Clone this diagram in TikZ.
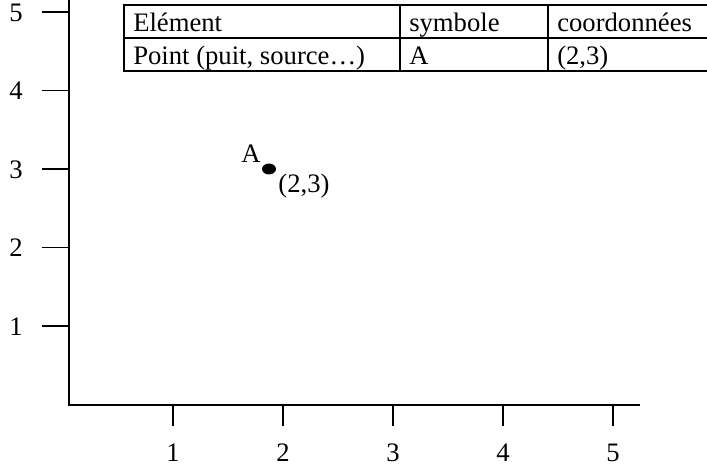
\documentclass[tikz,border=0pt]{standalone}
\usepackage{fontspec}
\setmainfont{Liberation Serif}
\usetikzlibrary{shapes.geometric}

\begin{document}
\begin{tikzpicture}[x=0.75pt, y=-0.75pt,
    axisline/.style={line width=1.4pt},
    tickline/.style={line width=1.1pt},
    tableline/.style={line width=1.4pt},
    lbl/.style={inner sep=0pt, font=\fontsize{20}{24}\selectfont},
    dot/.style={ellipse, fill=black, inner sep=0pt, minimum width=10.5pt, minimum height=8.2pt}]
    \useasboundingbox (0,0) rectangle (707,465);

    \def\ystep{78.5}
    \def\xstep{110}

    \coordinate (Origin) at (69,405);
    \coordinate (YTop) at (69,0);
    \coordinate (XEnd) at (640,405);

    % Axes
    \draw[axisline] (YTop) -- (Origin) -- (XEnd);

    % Y ticks
    \draw[tickline] (42,326) -- (69,326);
    \draw[tickline] (42,326-\ystep) -- (69,326-\ystep);
    \draw[tickline] (42,326-2*\ystep) -- (69,326-2*\ystep);
    \draw[tickline] (42,326-3*\ystep) -- (69,326-3*\ystep);
    \draw[tickline] (42,326-4*\ystep) -- (69,326-4*\ystep);

    \node[lbl, anchor=base] (Y1) at (16,335) {1};
    \node[lbl, anchor=base] (Y2) at (16,335-\ystep) {2};
    \node[lbl, anchor=base] (Y3) at (16,335-2*\ystep) {3};
    \node[lbl, anchor=base] (Y4) at (16,335-3*\ystep) {4};
    \node[lbl, anchor=base] (Y5) at (16,335-4*\ystep) {5};

    % X ticks
    \draw[tickline] (173,405) -- (173,426);
    \draw[tickline] (173+\xstep,405) -- (173+\xstep,426);
    \draw[tickline] (173+2*\xstep,405) -- (173+2*\xstep,426);
    \draw[tickline] (173+3*\xstep,405) -- (173+3*\xstep,426);
    \draw[tickline] (173+4*\xstep,405) -- (173+4*\xstep,426);

    \node[lbl, anchor=base] (X1) at (173,461) {1};
    \node[lbl, anchor=base] (X2) at (173+\xstep,461) {2};
    \node[lbl, anchor=base] (X3) at (173+2*\xstep,461) {3};
    \node[lbl, anchor=base] (X4) at (173+3*\xstep,461) {4};
    \node[lbl, anchor=base] (X5) at (173+4*\xstep,461) {5};

    % Table
    \draw[tableline] (707,5) -- (124,5) -- (124,71) -- (707,71);
    \draw[tableline] (124,38) -- (707,38);
    \draw[tableline] (400,5) -- (400,71);
    \draw[tableline] (548,5) -- (548,71);

    \node[lbl, anchor=base west] (HeadElem) at (133,31) {Elément};
    \node[lbl, anchor=base west] (HeadSym) at (409,31) {symbole};
    \node[lbl, anchor=base west] (HeadCoord) at (557,31) {coordonnées};
    \node[lbl, anchor=base west] (RowElem) at (133,64) {Point (puit, source…)};
    \node[lbl, anchor=base west] (RowSym) at (409,64) {A};
    \node[lbl, anchor=base west] (RowCoord) at (557,64) {(2,3)};

    % Point A
    \node[dot] (A) at (269,169) {};
    \node[lbl, anchor=base] (ALabel) at (251,162) {A};
    \node[lbl, anchor=base] (ACoord) at (304,192) {(2,3)};

\end{tikzpicture}
\end{document}
